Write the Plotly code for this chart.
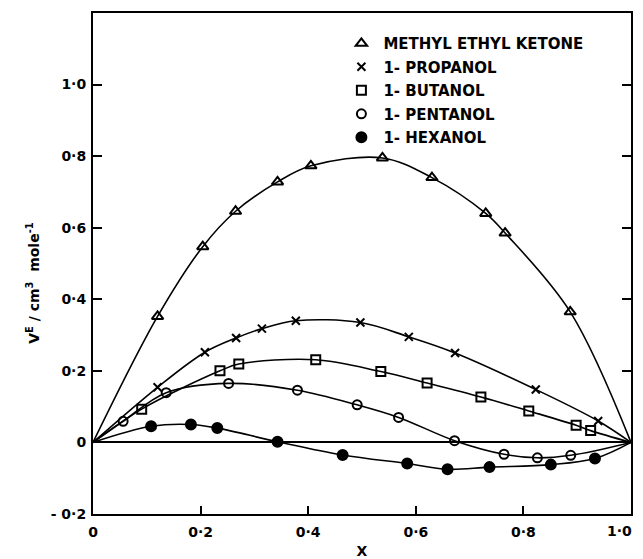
import plotly.graph_objects as go

# Mole fraction (x) and excess volume V^E (cm^3 mole^-1)
mek_x = [0.120, 0.204, 0.265, 0.343, 0.405, 0.538, 0.630, 0.730, 0.766, 0.887]
mek_v = [0.352, 0.547, 0.646, 0.728, 0.773, 0.795, 0.740, 0.640, 0.585, 0.365]

prop_x = [0.120, 0.208, 0.266, 0.314, 0.377, 0.497, 0.587, 0.673, 0.823, 0.939]
prop_v = [0.154, 0.252, 0.292, 0.318, 0.340, 0.335, 0.295, 0.250, 0.148, 0.060]

but_x = [0.0905, 0.236, 0.271, 0.414, 0.535, 0.621, 0.721, 0.810, 0.898, 0.925]
but_v = [0.093, 0.200, 0.219, 0.231, 0.198, 0.166, 0.127, 0.088, 0.048, 0.033]

pent_x = [0.056, 0.136, 0.252, 0.380, 0.491, 0.568, 0.672, 0.764, 0.826, 0.888]
pent_v = [0.059, 0.139, 0.165, 0.146, 0.105, 0.070, 0.005, -0.033, -0.043, -0.036]

hex_x = [0.108, 0.182, 0.231, 0.343, 0.464, 0.584, 0.659, 0.737, 0.851, 0.933]
hex_v = [0.045, 0.050, 0.040, 0.002, -0.035, -0.059, -0.075, -0.069, -0.062, -0.045]

series_names = ["METHYL ETHYL KETONE", "1- PROPANOL", "1- BUTANOL", "1- PENTANOL", "1- HEXANOL"]

x_tickvals = [0, 0.2, 0.4, 0.6, 0.8, 1.0]
x_ticktext = ["0", "0·2", "0·4", "0·6", "0·8", ""]
x_last_label = "1·0"   # drawn right-aligned at the axis end so it stays inside the page
y_tickvals = [-0.2, 0, 0.2, 0.4, 0.6, 0.8, 1.0]
y_ticktext = ["- 0·2", "0", "0·2", "0·4", "0·6", "0·8", "1·0"]

series = [
    (mek_x, mek_v, "triangle-up-open", 10),
    (prop_x, prop_v, "x-thin-open", 8),
    (but_x, but_v, "square-open", 9),
    (pent_x, pent_v, "circle-open", 9),
    (hex_x, hex_v, "circle", 10),
]

fig = go.Figure()
FONT = "DejaVu Sans"

# fitted curves (through the end points)
for xs, vs, sym, sz in series:
    fig.add_trace(go.Scatter(
        x=[0] + xs + [1], y=[0] + vs + [0], mode="lines",
        line=dict(color="black", width=1.6, shape="spline", smoothing=1.0),
        showlegend=False, hoverinfo="skip"))

# data points
for i, ((xs, vs, sym, sz), name) in enumerate(zip(series, series_names)):
    fig.add_trace(go.Scatter(
        x=xs, y=vs, mode="markers", name=name, legendgroup=f"g{i}",
        marker=dict(symbol=sym, size=sz, color="black",
                    line=dict(color="black", width=2)),
        cliponaxis=False))

# the page body has an 8 px default margin; the figure is sized to fit the window
fig.update_layout(
    width=635, height=551,
    margin=dict(l=85, r=12, t=5, b=45, autoexpand=False),
    paper_bgcolor="white", plot_bgcolor="white",
    font=dict(family=FONT, color="black", size=13),
    showlegend=True,
    legend=dict(x=0.458, y=0.972, xanchor="left", yanchor="top",
                bgcolor="rgba(0,0,0,0)", borderwidth=0,
                font=dict(family=FONT, size=15, color="black", weight="bold"),
                itemwidth=34, tracegroupgap=1),
    xaxis=dict(range=[0, 1], tickvals=x_tickvals, ticktext=x_ticktext,
               automargin=False,
               ticks="inside", ticklen=8, tickwidth=1.5, tickcolor="black",
               showline=True, linecolor="black", linewidth=2, mirror=True,
               showgrid=False, zeroline=False,
               tickfont=dict(family=FONT, size=14, weight="bold"),
               ticklabelstandoff=4,
               title=dict(text="X", font=dict(family=FONT, size=14, weight="bold"),
                          standoff=8)),
    yaxis=dict(range=[-0.2, 1.2], tickvals=y_tickvals, ticktext=y_ticktext,
               automargin=False,
               ticks="inside", ticklen=9, tickwidth=1.5, tickcolor="black",
               showline=True, linecolor="black", linewidth=2, mirror="ticks",
               showgrid=False, zeroline=True, zerolinecolor="black", zerolinewidth=1.6,
               tickfont=dict(family=FONT, size=14, weight="bold"),
               ticklabelstandoff=2),
)

fig.add_annotation(
    text=x_last_label, xref="x", yref="paper", x=x_tickvals[-1], y=0,
    xanchor="right", yanchor="top", xshift=3, yshift=-7, showarrow=False,
    font=dict(family=FONT, size=14, color="black", weight="bold"))

fig.add_annotation(
    text="V<sup>E</sup> / cm<sup>3</sup>  mole<sup>-1</sup>",
    xref="paper", yref="paper", x=-0.113, y=0.46,
    xanchor="center", yanchor="middle", textangle=-90, showarrow=False,
    font=dict(family=FONT, size=14, color="black", weight="bold"))

fig.write_html("out.html")
